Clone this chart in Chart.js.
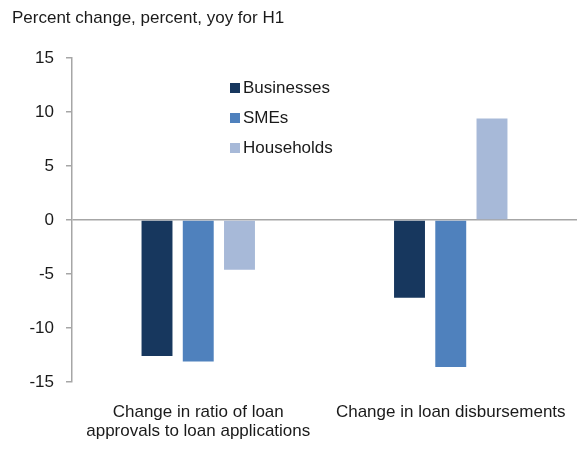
<!DOCTYPE html>
<html>
<head>
<meta charset="utf-8">
<script src="https://cdn.jsdelivr.net/npm/chart.js@4/dist/chart.umd.min.js"></script>
<style>
  html, body { margin: 0; padding: 0; background: #fff; }
  #wrap { width: 581px; height: 450px; position: relative; }
</style>
</head>
<body>
<div id="wrap"><canvas id="loanChart" width="581" height="450"></canvas></div>
<script>
const categories = [
    ['Change in ratio of loan', 'approvals to loan applications'],
    'Change in loan disbursements',
];
const businesses = [-12.6, -7.2];
const smes = [-13.1, -13.6];
const households = [-4.6, 9.4];
const yTicks = [-15, -10, -5, 0, 5, 10, 15];

const FONT = '"Liberation Sans", Arial, sans-serif';
const TEXT = '#1a1a1a';
const AXIS = '#a6a6a6';

// title and boxed legend drawn straight onto the canvas
const annotations = {
    id: 'annotations',
    afterDraw(chart) {
        const ctx = chart.ctx;
        ctx.save();
        ctx.font = '17px ' + FONT;
        ctx.fillStyle = TEXT;
        ctx.textBaseline = 'middle';
        ctx.textAlign = 'left';
        ctx.fillText('Percent change, percent, yoy for H1', 12, 18);

        chart.data.datasets.forEach((ds, i) => {
            const y = 88 + i * 30;
            ctx.fillStyle = ds.backgroundColor;
            ctx.fillRect(230, y - 5, 10, 10);
            ctx.fillStyle = TEXT;
            ctx.fillText(ds.label, 243, y);
        });
        ctx.restore();
    },
};

new Chart(document.getElementById('loanChart').getContext('2d'), {
    type: 'bar',
    data: {
        labels: categories,
        datasets: [
            { label: 'Businesses', data: businesses, backgroundColor: '#17375e' },
            { label: 'SMEs', data: smes, backgroundColor: '#4f81bd' },
            { label: 'Households', data: households, backgroundColor: '#a7b9d8' },
        ],
    },
    options: {
        responsive: false,
        animation: false,
        devicePixelRatio: 1,
        layout: { padding: { top: 58, right: 4, left: 0, bottom: 0 } },
        datasets: {
            bar: { categoryPercentage: 0.49, barPercentage: 0.75 },
        },
        plugins: {
            legend: { display: false },
            tooltip: { enabled: false },
        },
        scales: {
            x: {
                grid: { display: false },
                border: { display: false },
                ticks: {
                    color: TEXT,
                    font: { family: FONT, size: 17, lineHeight: 1.1 },
                    padding: 13,
                    maxRotation: 0,
                },
                afterFit(scale) { scale.height = 68; },
            },
            y: {
                min: -15,
                max: 15,
                afterBuildTicks(scale) {
                    scale.ticks = yTicks.map(v => ({ value: v }));
                },
                grid: {
                    color: ctx => (ctx.tick && ctx.tick.value === 0 ? AXIS : 'rgba(0,0,0,0)'),
                    tickColor: AXIS,
                    tickLength: 6,
                    lineWidth: 1.5,
                },
                border: { color: AXIS, width: 1.5 },
                ticks: {
                    color: TEXT,
                    font: { family: FONT, size: 17 },
                    padding: 12,
                },
                afterFit(scale) { scale.width = 72; },
            },
        },
    },
    plugins: [annotations],
});
</script>
</body>
</html>
